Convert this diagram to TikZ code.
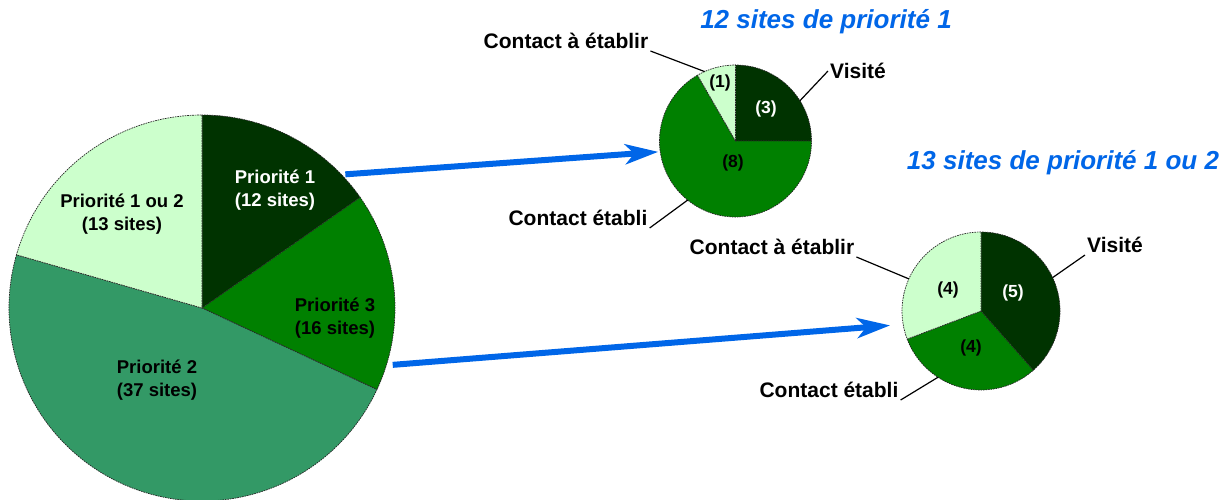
\documentclass[tikz,border=0pt]{standalone}
\usepackage{fontspec}
\setmainfont{Liberation Sans}
\usepackage{tikz}
\usetikzlibrary{arrows.meta}
\definecolor{vertfonce}{RGB}{0,51,0}
\definecolor{vert}{RGB}{0,128,0}
\definecolor{vertgris}{RGB}{51,153,102}
\definecolor{vertpale}{RGB}{204,255,204}
\definecolor{bleu}{RGB}{0,102,232}

\begin{document}
\begin{tikzpicture}[x=1pt, y=1pt,
        part/.style={draw=black!85, line width=0.7pt, dash pattern=on 1.6pt off 0.9pt},
        gros/.style={font=\bfseries\fontsize{18.5}{22.5}\selectfont, align=center},
        nombre/.style={font=\bfseries\fontsize{17.5}{20}\selectfont},
        legende/.style={font=\bfseries\fontsize{21}{25}\selectfont, inner sep=2pt},
        titre/.style={font=\bfseries\itshape\fontsize{26}{30}\selectfont, text=bleu},
        trait/.style={line width=1.2pt},
        fleche/.style={bleu, line width=6pt, -{Stealth[length=33pt, width=20pt, inset=9pt]}}]
    \useasboundingbox (0,0) rectangle (1231,-499);
    \fill[white] (0,0) rectangle (1231,-499);

    \coordinate (c0) at (202,-308);
    \coordinate (c1) at (735.5,-141);
    \coordinate (c2) at (981,-311);

    \foreach \a/\b/\c in {90/35/vertfonce, 35/-25/vert, -25/-196/vertgris, -196/-270/vertpale}
        \filldraw[part, fill=\c] (c0) -- ++(\a:193) arc[start angle=\a, end angle=\b, radius=193] -- cycle;
    \foreach \a/\b/\c in {90/0/vertfonce, 0/-240/vert, -240/-270/vertpale}
        \filldraw[part, fill=\c] (c1) -- ++(\a:76) arc[start angle=\a, end angle=\b, radius=76] -- cycle;
    \foreach \a/\b/\c in {90/-48.5/vertfonce, -48.5/-159.2/vert, -159.2/-270/vertpale}
        \filldraw[part, fill=\c] (c2) -- ++(\a:79) arc[start angle=\a, end angle=\b, radius=79] -- cycle;

    \node[gros, text=white] (p1) at (275,-190) {Priorité 1\\(12 sites)};
    \node[gros] (p12) at (122,-214) {Priorité 1 ou 2\\(13 sites)};
    \node[gros] (p3) at (335,-318) {Priorité 3\\(16 sites)};
    \node[gros] (p2) at (157,-380) {Priorité 2\\(37 sites)};

    \node[nombre] (n1a) at (720,-83) {(1)};
    \node[nombre, text=white] (n1v) at (766,-109) {(3)};
    \node[nombre] (n1e) at (733,-163) {(8)};
    \node[nombre] (n2a) at (948,-290) {(4)};
    \node[nombre, text=white] (n2v) at (1013,-293) {(5)};
    \node[nombre] (n2e) at (971,-348) {(4)};

    \node[titre] (t1) at (826,-22) {12 sites de priorité 1};
    \node[titre] (t2) at (1063,-163) {13 sites de priorité 1 ou 2};

    \node[legende] (ae1) at (566,-41) {Contact à établir};
    \node[legende] (vi1) at (858,-71) {Visité};
    \node[legende] (et1) at (578,-218) {Contact établi};
    \node[legende] (ae2) at (772,-247) {Contact à établir};
    \node[legende] (vi2) at (1115,-245) {Visité};
    \node[legende] (et2) at (829,-390) {Contact établi};

    \draw[trait] (ae1.south east) -- ([shift={(114:76)}]c1);
    \draw[trait] (vi1.west) -- ([shift={(32:76)}]c1);
    \draw[trait] (et1.south east) -- ([shift={(231:76)}]c1);
    \draw[trait] (ae2.south east) -- ([shift={(156:79)}]c2);
    \draw[trait] (vi2.south west) -- ([shift={(25:79)}]c2);
    \draw[trait] (et2.south east) -- ([shift={(237:79)}]c2);

    \draw[fleche] ([shift={(43:196)}]c0) -- ([shift={(188:78)}]c1);
    \draw[fleche] ([shift={(-16.6:199)}]c0) -- ([shift={(189:92)}]c2);
\end{tikzpicture}
\end{document}
